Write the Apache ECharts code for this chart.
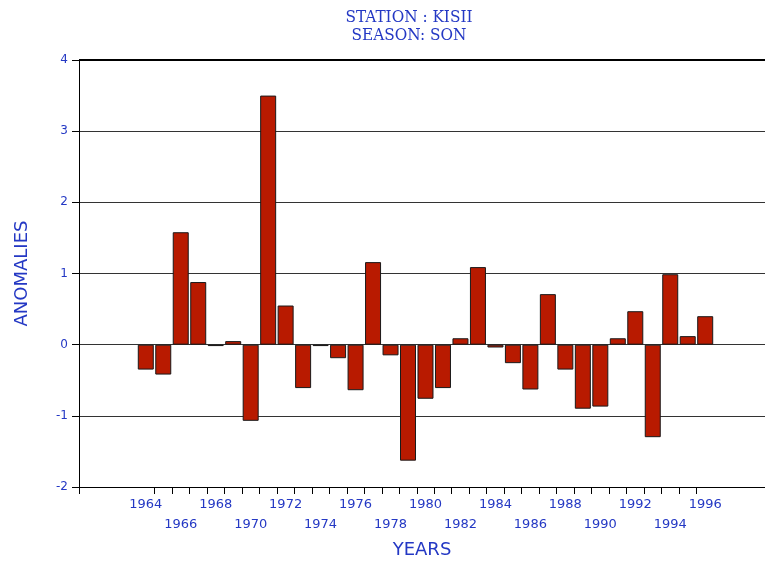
<!DOCTYPE html>
<html>
<head>
<meta charset="utf-8">
<script src="https://cdn.jsdelivr.net/npm/echarts@6/dist/echarts.min.js"></script>
<style>
	html, body { margin: 0; padding: 0; background: #fff; }
	#chart { width: 765px; height: 561px; }
</style>
</head>
<body>
<div id="chart"></div>
<script>
// data
const years = [1964, 1965, 1966, 1967, 1968, 1969, 1970, 1971, 1972, 1973, 1974,
	1975, 1976, 1977, 1978, 1979, 1980, 1981, 1982, 1983, 1984, 1985,
	1986, 1987, 1988, 1989, 1990, 1991, 1992, 1993, 1994, 1995, 1996]
const anomalies = [-0.35, -0.42, 1.58, 0.88, -0.02, 0.05, -1.07, 3.5, 0.55, -0.61, -0.02,
	-0.19, -0.64, 1.16, -0.15, -1.63, -0.76, -0.61, 0.09, 1.09, -0.04, -0.26,
	-0.63, 0.71, -0.35, -0.9, -0.87, 0.09, 0.47, -1.3, 0.99, 0.12, 0.4]
const yearLabels = [1964, 1966, 1968, 1970, 1972, 1974, 1976, 1978, 1980,
	1982, 1984, 1986, 1988, 1990, 1992, 1994, 1996]
const yTicks = [-2, -1, 0, 1, 2, 3, 4]

const xMin = 1960.18
const xMax = 1999.42
const blue = '#2438c4'

const chart = echarts.init(document.getElementById('chart'))

// ticks sit between the bars
const xTicks = [xMin].concat(years.slice(0, -1).map((y) => y + 0.5))

const options = {
	animation: false,
	title: {
		text: 'STATION : KISII\nSEASON: SON',
		left: 404,
		textAlign: 'center',
		top: 4,
		textStyle: {
			fontFamily: 'DejaVu Serif Condensed',
			fontWeight: 'normal',
			fontSize: 17,
			lineHeight: 18,
			color: blue,
		},
	},
	grid: {
		left: 79,
		right: 0,
		top: 60,
		height: 427,
		containLabel: false,
		outerBoundsMode: 'none',
	},
	xAxis: {
		type: 'value',
		min: xMin,
		max: xMax,
		name: 'YEARS',
		nameLocation: 'middle',
		nameGap: 54,
		nameTextStyle: {
			fontFamily: 'DejaVu Sans',
			fontSize: 18,
			color: blue,
		},
		splitLine: { show: false },
		axisLine: {
			onZero: false,
			lineStyle: { color: '#000', width: 1 },
		},
		axisTick: {
			show: true,
			length: 7,
			customValues: xTicks,
			lineStyle: { color: '#000' },
		},
		axisLabel: {
			customValues: yearLabels,
			margin: 8,
			fontFamily: 'DejaVu Sans',
			fontSize: 13,
			lineHeight: 20,
			color: blue,
			formatter: (v) => ((v - 1964) % 4 === 0 ? String(v) : '\n' + v),
		},
	},
	yAxis: {
		type: 'value',
		min: -2,
		max: 4,
		interval: 1,
		name: 'ANOMALIES',
		nameLocation: 'middle',
		nameGap: 48,
		nameRotate: 90,
		nameTextStyle: {
			fontFamily: 'DejaVu Sans',
			fontSize: 18,
			color: blue,
		},
		axisLine: {
			show: true,
			lineStyle: { color: '#000', width: 1 },
		},
		axisTick: {
			show: true,
			length: 7,
			lineStyle: { color: '#000' },
		},
		axisLabel: {
			margin: 11,
			fontFamily: 'DejaVu Sans',
			fontSize: 12,
			color: blue,
			customValues: yTicks,
		},
		splitLine: {
			show: true,
			lineStyle: { color: '#333', width: 1 },
		},
	},
	series: [
		{
			type: 'bar',
			barWidth: 16,
			data: years.map((y, i) => [y, anomalies[i]]),
			itemStyle: {
				color: '#b81a00',
				borderColor: '#1a1a1a',
				borderWidth: 1,
			},
			markLine: {
				silent: true,
				symbol: 'none',
				label: { show: false },
				lineStyle: { color: '#000', width: 2, type: 'solid' },
				data: [{ yAxis: 4 }],
			},
		},
	],
}

chart.setOption(options)
</script>
</body>
</html>
